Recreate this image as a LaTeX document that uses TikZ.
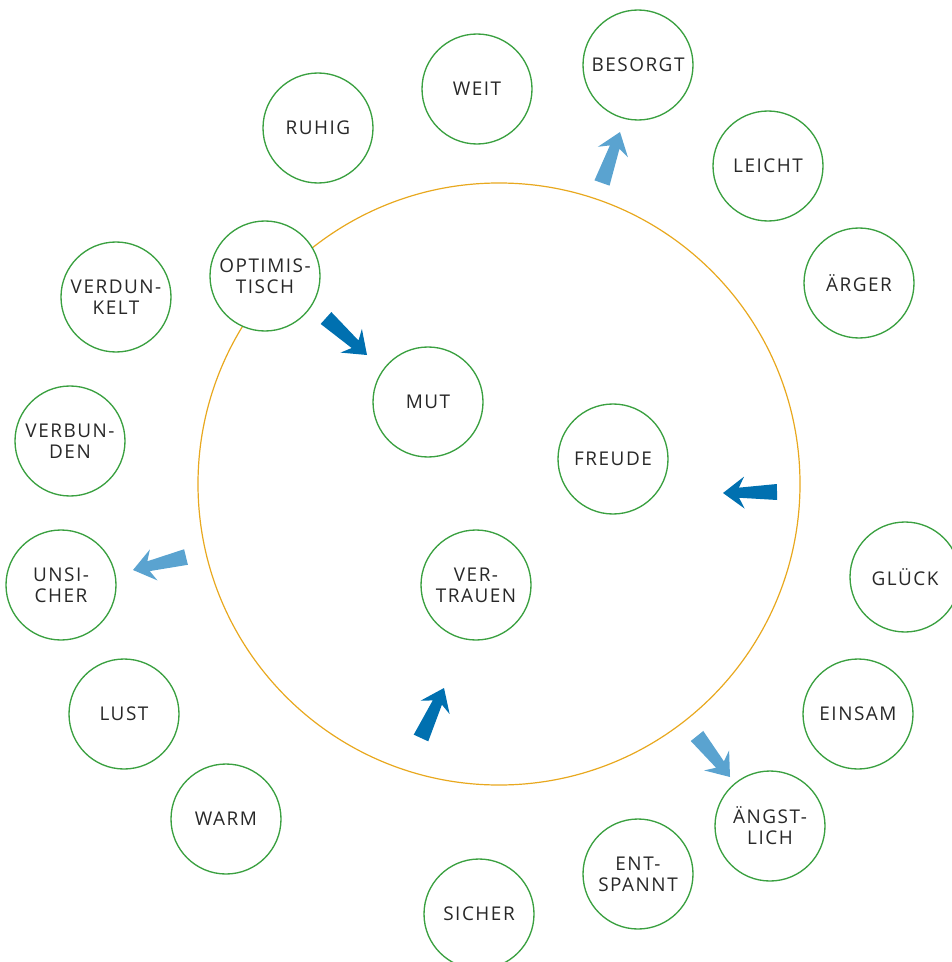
\documentclass[tikz,border=0pt]{standalone}
\usepackage{fontspec}
\setmainfont[LetterSpace=8]{Open Sans}
\usetikzlibrary{calc}
\definecolor{ringgreen}{RGB}{58,160,64}
\definecolor{ringgold}{RGB}{232,168,30}
\definecolor{darkblue}{RGB}{0,112,176}
\definecolor{lightblue}{RGB}{90,163,208}
\definecolor{labelgray}{RGB}{40,40,40}
\tikzset{
  word/.style={circle, draw=ringgreen, line width=1pt, fill=white, minimum size=82.5pt, inner sep=0pt,
    align=center, text=labelgray, font=\fontsize{14.2}{15.8}\selectfont},
  bigring/.style={draw=ringgold, line width=0.9pt},
}
\newcommand\fatarrow[3]{%
  \fill[#1]
    ($(#2)!6pt!90:(#3)$) --
    ($($(#3)!12pt!(#2)$)!3.8pt!90:(#3)$) --
    ($($(#3)!16pt!(#2)$)!12pt!90:(#3)$) --
    (#3) --
    ($($(#3)!16pt!(#2)$)!12pt!-90:(#3)$) --
    ($($(#3)!12pt!(#2)$)!3.8pt!-90:(#3)$) --
    ($(#2)!6pt!-90:(#3)$) -- cycle;}
\begin{document}
\begin{tikzpicture}[x=0.75pt,y=-0.75pt]
\useasboundingbox (0,0) rectangle (951,962);
\node[bigring, circle, minimum size=451.5pt, inner sep=0pt] (ring) at (499,484) {};
\node[word] (ruhig) at (318,128) {RUHIG};
\node[word] (weit) at (477,89) {WEIT};
\node[word] (besorgt) at (638,65) {BESORGT};
\node[word] (leicht) at (768,166) {LEICHT};
\node[word] (aerger) at (859,283) {ÄRGER};
\node[word] (optim) at (265,276) {OPTIMIS-\\TISCH};
\node[word] (verdunkelt) at (116,297) {VERDUN-\\KELT};
\node[word] (verbunden) at (70,441) {VERBUN-\\DEN};
\node[word] (unsicher) at (61,585) {UNSI-\\CHER};
\node[word] (lust) at (124,714) {LUST};
\node[word] (warm) at (226,819) {WARM};
\node[word] (sicher) at (479,914) {SICHER};
\node[word] (entspannt) at (638,874) {ENT-\\SPANNT};
\node[word] (aengstlich) at (770,826) {ÄNGST-\\LICH};
\node[word] (einsam) at (858,714) {EINSAM};
\node[word] (glueck) at (905,577) {GLÜCK};
\node[word] (mut) at (428,402) {MUT};
\node[word] (freude) at (613,459) {FREUDE};
\node[word] (vertrauen) at (476,585) {VER-\\TRAUEN};
% arrows
\coordinate (a1t) at (326,318); \coordinate (a1h) at (367,355);
\coordinate (a2t) at (602,183); \coordinate (a2h) at (620,132);
\coordinate (a3t) at (777,492); \coordinate (a3h) at (723,493);
\coordinate (a4t) at (186,557); \coordinate (a4h) at (133,570);
\coordinate (a5t) at (421,738); \coordinate (a5h) at (444,688);
\coordinate (a6t) at (697,736); \coordinate (a6h) at (730,777);
\fatarrow{darkblue}{a1t}{a1h}
\fatarrow{lightblue}{a2t}{a2h}
\fatarrow{darkblue}{a3t}{a3h}
\fatarrow{lightblue}{a4t}{a4h}
\fatarrow{darkblue}{a5t}{a5h}
\fatarrow{lightblue}{a6t}{a6h}
\end{tikzpicture}
\end{document}
